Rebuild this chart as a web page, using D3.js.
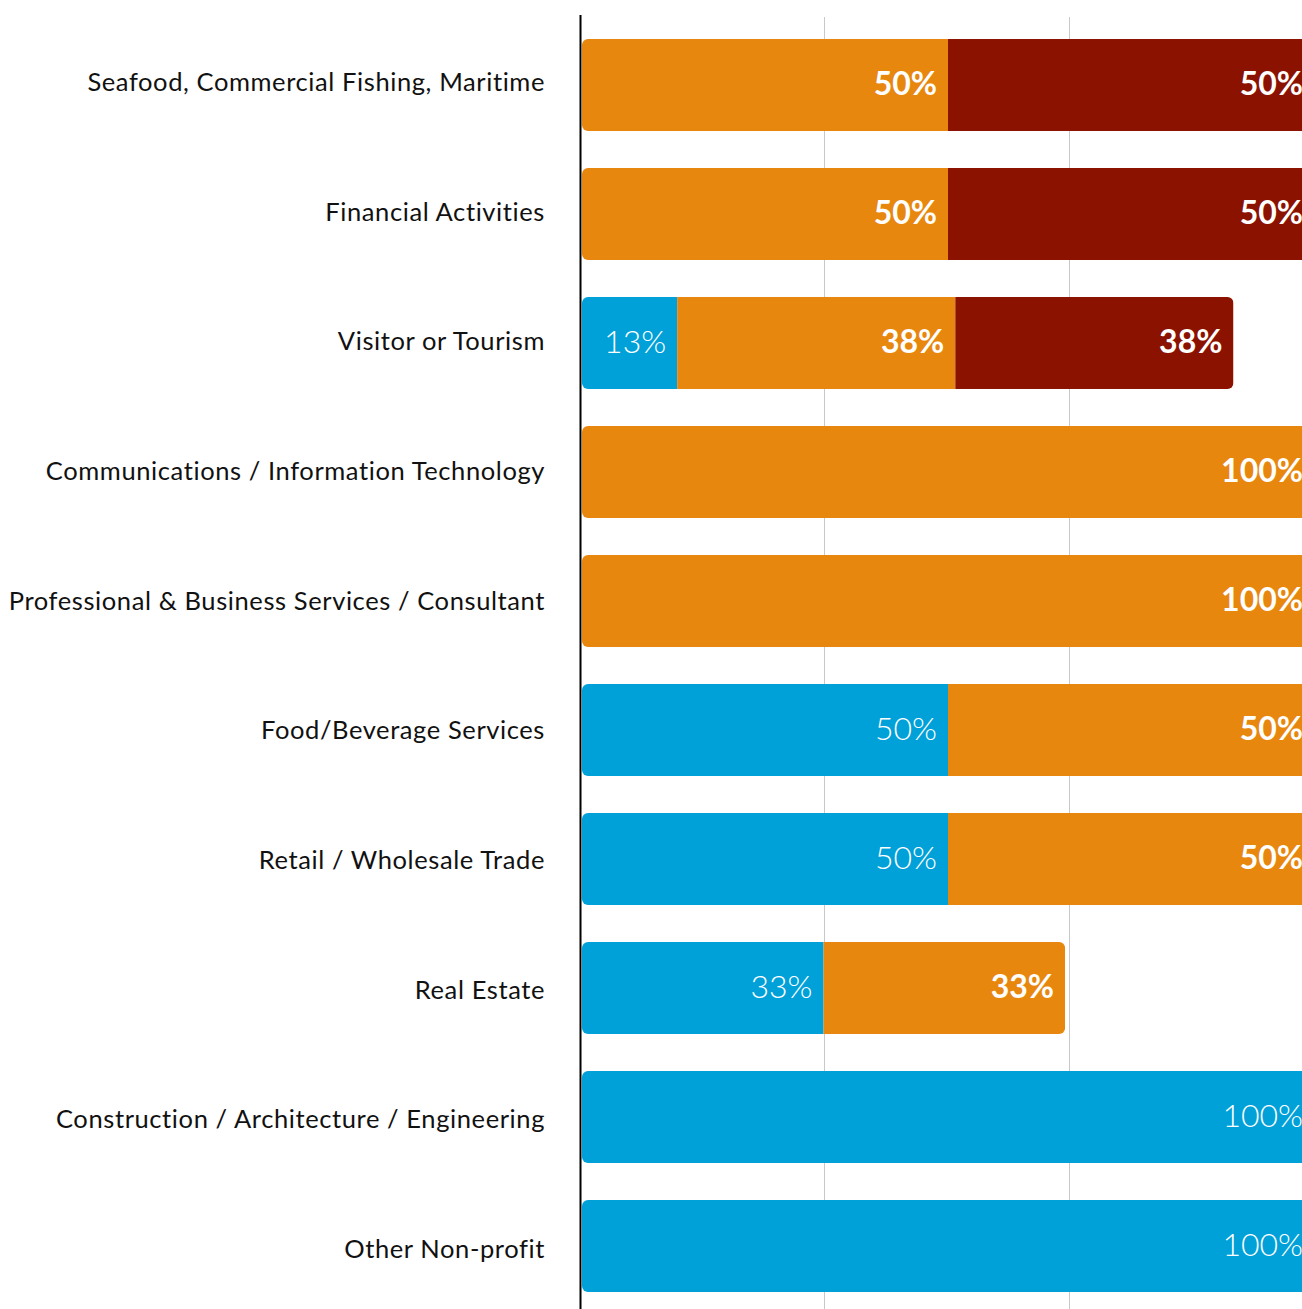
<html>
<head>
<script src="https://d3js.org/d3.v7.min.js"></script>
<style>
  body { margin: 0; background: #fff; }
  .cat { font-family: Lato, "Open Sans", sans-serif; font-size: 25.5px; letter-spacing: 0.6px; fill: #111; }
  .val { font-family: Lato, "Open Sans", sans-serif; font-size: 32px; fill: #fff; }
</style>
</head>
<body>
<svg width="1302" height="1309"></svg>
<script>
var categories = [
  "Seafood, Commercial Fishing, Maritime",
  "Financial Activities",
  "Visitor or Tourism",
  "Communications / Information Technology",
  "Professional & Business Services / Consultant",
  "Food/Beverage Services",
  "Retail / Wholesale Trade",
  "Real Estate",
  "Construction / Architecture / Engineering",
  "Other Non-profit"
];
var blueVals   = [0, 0, 0.13, 0, 0, 0.5, 0.5, 0.33, 1, 1];
var orangeVals = [0.5, 0.5, 0.38, 1, 1, 0.5, 0.5, 0.33, 0, 0];
var redVals    = [0.5, 0.5, 0.38, 0, 0, 0, 0, 0, 0, 0];
var gridTicks  = [0.33, 0.665];

var seriesKeys = ["blue", "orange", "red"];
var colors = { blue: "#00a0d8", orange: "#e8870e", red: "#8c1200" };
var weights = { blue: 300, orange: 700, red: 700 };

var rows = categories.map(function(c, i) {
  return { cat: c, blue: blueVals[i], orange: orangeVals[i], red: redVals[i] };
});

var svg = d3.select("svg");

var x = d3.scaleLinear().domain([0, 1]).range([582, 1314]);
var y = d3.scaleBand().domain(categories).range([20.5, 1310.5])
  .paddingInner(0.287).paddingOuter(0.1435);
// category labels drift slightly against the bars in the original
var yLabel = d3.scalePoint().domain(categories).range([82, 1249]);

// gridlines
svg.append("g").selectAll("line")
  .data(gridTicks).enter().append("line")
  .attr("x1", function(d) { return Math.round(x(d)) + 0.5; })
  .attr("x2", function(d) { return Math.round(x(d)) + 0.5; })
  .attr("y1", 17).attr("y2", 1309)
  .attr("stroke", "#c8c8c8").attr("stroke-width", 1);

var stacked = d3.stack().keys(seriesKeys)(rows);

// clip each row to a rounded rect spanning its total
var defs = svg.append("defs");
rows.forEach(function(r, i) {
  var total = r.blue + r.orange + r.red;
  defs.append("clipPath").attr("id", "clip" + i)
    .append("rect")
    .attr("x", x(0)).attr("y", y(r.cat))
    .attr("width", x(total) - x(0)).attr("height", y.bandwidth())
    .attr("rx", 6).attr("ry", 6);
});

var rowG = svg.append("g").selectAll("g")
  .data(rows).enter().append("g")
  .attr("clip-path", function(d, i) { return "url(#clip" + i + ")"; });

stacked.forEach(function(s) {
  rowG.each(function(d, i) {
    var seg = s[i];
    if (seg[1] - seg[0] <= 0) return;
    d3.select(this).append("rect")
      .attr("x", x(seg[0])).attr("y", y(d.cat))
      .attr("width", x(seg[1]) - x(seg[0])).attr("height", y.bandwidth())
      .attr("fill", colors[s.key]);
  });
});

// value labels
var fmt = d3.format(".0%");
stacked.forEach(function(s) {
  svg.append("g").selectAll("text")
    .data(s.filter(function(seg) { return seg[1] - seg[0] > 0; }))
    .enter().append("text")
    .attr("class", "val")
    .attr("x", function(seg) { return x(seg[1]) - 11; })
    .attr("y", function(seg) { return y(seg.data.cat) + y.bandwidth() / 2; })
    .attr("dy", "0.3em")
    .attr("text-anchor", "end")
    .attr("font-weight", weights[s.key])
    .text(function(seg) { return fmt(seg[1] - seg[0]); });
});

// category labels
svg.append("g").selectAll("text")
  .data(categories).enter().append("text")
  .attr("class", "cat")
  .attr("x", 545)
  .attr("y", function(d) { return yLabel(d); })
  .attr("dy", "0.35em")
  .attr("text-anchor", "end")
  .text(function(d) { return d; });

// axis line
svg.append("line")
  .attr("x1", 580.5).attr("x2", 580.5)
  .attr("y1", 15).attr("y2", 1309)
  .attr("stroke", "#000").attr("stroke-width", 2);
</script>
</body>
</html>
